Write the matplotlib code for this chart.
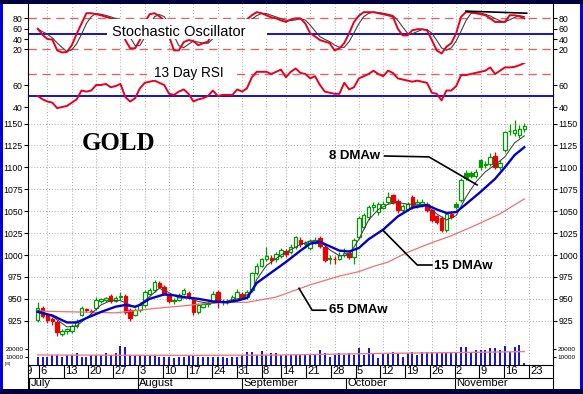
import matplotlib.pyplot as plt
import matplotlib.patches as patches
import numpy as np
import pandas as pd

plt.rcParams['font.family'] = ['Liberation Sans', 'DejaVu Sans']

# trading days 1 Jul 2009 .. 20 Nov 2009 (index 0..100)
opens = [926, 940, 931, 927, 924, 910, 913, 913, 919, 932,
         938, 936, 939, 948, 949, 953, 948, 952, 953, 937,
         932, 937, 943, 956, 960, 968, 964, 954, 947, 949,
         956, 957, 949, 935, 941, 944, 947, 958, 946, 947,
         949, 949, 956, 952, 960, 979, 988, 995, 997, 995,
         999, 1005, 1003, 1009, 1017, 1012, 1008, 1014, 1019, 1009,
         997, 996, 996, 1000, 1002, 998, 1020, 1032, 1043, 1055,
         1049, 1054, 1060, 1068, 1062, 1051, 1053, 1066, 1057, 1058,
         1058, 1051, 1044, 1042, 1028, 1047, 1058, 1063, 1094, 1094,
         1090, 1108, 1103, 1104, 1113, 1100, 1120, 1141, 1139, 1137,
         1144]
highs = [946, 942, 934, 929, 926, 915, 917, 921, 927, 942,
         940, 938, 952, 951, 952, 956, 953, 958, 955, 939,
         940, 946, 960, 962, 972, 970, 966, 956, 951, 957,
         962, 959, 950, 945, 946, 948, 959, 960, 950, 950,
         954, 961, 958, 960, 981, 991, 997, 1009, 1000, 1003,
         1008, 1007, 1012, 1022, 1020, 1016, 1018, 1021, 1022, 1011,
         1000, 999, 1003, 1008, 1004, 1019, 1045, 1048, 1057, 1060,
         1060, 1062, 1072, 1070, 1064, 1058, 1061, 1068, 1064, 1064,
         1060, 1053, 1046, 1044, 1049, 1050, 1060, 1088, 1097, 1096,
         1098, 1110, 1107, 1116, 1118, 1108, 1142, 1150, 1154, 1148,
         1151]
lows = [924, 928, 922, 920, 908, 907, 910, 911, 917, 930,
        935, 933, 937, 945, 946, 945, 946, 949, 933, 925,
        930, 935, 941, 953, 958, 962, 954, 945, 944, 947,
        954, 950, 932, 933, 939, 941, 945, 940, 943, 944,
        946, 947, 950, 950, 958, 977, 986, 993, 990, 992,
        997, 998, 1001, 1007, 1009, 1008, 1006, 1012, 1008, 992,
        990, 990, 994, 998, 996, 990, 1018, 1030, 1040, 1050,
        1046, 1052, 1058, 1058, 1048, 1048, 1051, 1052, 1054, 1055,
        1049, 1038, 1035, 1026, 1026, 1041, 1052, 1060, 1086, 1088,
        1088, 1097, 1099, 1102, 1098, 1097, 1118, 1137, 1136, 1133,
        1140]
closes = [940, 930, 926, 925, 912, 913, 915, 919, 925, 939,
          937, 935, 949, 950, 951, 947, 951, 953, 935, 928,
          937, 943, 958, 960, 969, 964, 956, 947, 949, 954,
          960, 952, 935, 943, 944, 945, 956, 947, 947, 948,
          952, 958, 952, 958, 979, 988, 995, 999, 994, 1001,
          1006, 1001, 1009, 1020, 1012, 1014, 1016, 1017, 1010, 994,
          996, 995, 1000, 1002, 998, 1017, 1042, 1046, 1055, 1057,
          1058, 1058, 1066, 1061, 1051, 1056, 1058, 1055, 1060, 1061,
          1051, 1040, 1038, 1028, 1047, 1043, 1055, 1086, 1088, 1090,
          1095, 1100, 1104, 1112, 1101, 1105, 1140, 1142, 1143, 1144,
          1147]
volume = [10300, 10300, 10300, 12500, 12500, 10300, 12500, 12500, 15500, 10300,
          9400, 12500, 12500, 12500, 14700, 12500, 14700, 24300, 22600, 12500,
          12500, 12500, 11200, 11200, 11200, 10300, 9400, 10300, 8100, 9400,
          10300, 12500, 11200, 10300, 10300, 9400, 10300, 9400, 9400, 8100,
          9400, 10300, 12500, 16900, 16900, 12500, 17800, 12500, 14700, 14700,
          12500, 12500, 12500, 12500, 12500, 12500, 12500, 12500, 19000, 14700,
          10300, 12500, 14700, 12500, 14700, 12500, 21300, 12500, 21300, 14700,
          8100, 14700, 14700, 16900, 14700, 10300, 14700, 16900, 12500, 16900,
          16900, 16900, 14700, 14700, 14700, 15500, 14700, 23400, 23400, 14700,
          19000, 19000, 19000, 21300, 21300, 19000, 24300, 16900, 23400, 25600,
          1500]
rsi13 = [50, 47, 45, 44, 39, 40, 41, 44, 47, 55,
         54, 55, 60, 60, 61, 58, 59, 61, 49, 45,
         48, 57, 62, 63, 64, 62, 60, 52, 51, 54,
         56, 52, 45, 47, 48, 50, 55, 50, 51, 51,
         51, 56, 54, 57, 67, 72, 72, 72, 70, 72,
         74, 67, 72, 75, 71, 70, 66, 68, 60, 54,
         53, 52, 52, 62, 56, 58, 66, 68, 70, 73,
         70, 68, 73, 71, 66, 65, 64, 63, 64, 63,
         62, 53, 52, 46, 55, 55, 59, 69, 69, 70,
         71, 72, 73, 76, 70, 73, 76, 76, 76.5, 78,
         80]
stoch_k = [60, 48, 40, 39, 18, 14, 15, 28, 50, 70,
           90, 90, 88, 86, 83, 80, 76, 70, 38, 22,
           22, 38, 72, 88, 90, 84, 76, 45, 18, 18,
           34, 38, 36, 28, 32, 35, 55, 45, 50, 55,
           65, 75, 70, 78, 86, 92, 90, 86, 82, 80,
           76, 73, 78, 80, 80, 70, 51, 45, 38, 35,
           32, 18, 22, 32, 51, 73, 85, 92, 92, 92,
           90, 88, 86, 83, 60, 47, 47, 57, 59, 59,
           57, 38, 18, 12, 25, 32, 51, 83, 92, 92,
           90, 88, 86, 80, 73, 73, 73, 86, 86, 84,
           80]

ma8_idx = [0, 3, 6, 8, 10, 13, 15, 17, 19, 20, 22, 25, 27, 29, 31, 33, 35, 38, 40, 42,
           44, 45, 47, 50, 52, 54, 56, 58, 60, 62, 64, 66, 68, 70, 72, 74, 76, 78, 80, 82,
           84, 86, 88, 90, 92, 94, 96, 98, 100]
ma8_val = [937, 930, 918, 919, 928, 943, 948, 948, 943, 940, 948, 962, 957, 951, 951, 947, 945, 946, 949, 951,
           958, 972, 988, 1000, 1006, 1012, 1016, 1016, 1006, 999, 1000, 1018, 1040, 1052, 1058, 1060, 1058, 1058, 1056, 1047,
           1040, 1045, 1066, 1083, 1095, 1103, 1112, 1128, 1136]
ma15_idx = [0, 3, 6, 8, 10, 13, 16, 18, 20, 21, 23, 26, 28, 30, 33, 36, 39, 41, 43, 45,
            48, 51, 54, 56, 58, 60, 62, 64, 66, 68, 71, 74, 77, 80, 82, 84, 86, 88, 91, 94,
            96, 98, 100]
ma15_val = [935, 931, 923, 923, 928, 935, 941, 943, 941, 943, 950, 955, 954, 952, 950, 947, 946, 948, 951, 968,
            980, 992, 1005, 1013, 1015, 1010, 1005, 1004, 1008, 1018, 1029, 1044, 1054, 1057, 1052, 1048, 1049, 1058, 1072, 1087,
            1100, 1114, 1123]
ma65_idx = [0, 8, 16, 24, 30, 35, 40, 43, 46, 49, 53, 56, 59, 62, 66, 69, 72, 76, 80, 85, 90, 95, 100]
ma65_val = [936, 935, 934, 939, 942, 945, 946, 946, 949, 952, 960, 966, 971, 976, 981, 987, 992, 1003, 1012, 1022,
            1034, 1047, 1064]
volma_idx = [0, 30, 50, 70, 90, 100]
volma_val = [12500, 12000, 12500, 14500, 16000, 17000]
stoch_trend_x = [88, 100.5]
stoch_trend_y = [94, 90]

week_idx = [-2, 2, 7, 12, 17, 22, 27, 32, 37, 42, 47, 51, 56, 61, 66, 71, 76, 81, 86, 91, 96, 101]
week_lbl = ['29', '6', '13', '20', '27', '3', '10', '17', '24', '31', '8', '14', '21', '28',
            '5', '12', '19', '26', '2', '9', '16', '23']
month_idx = [0, 22, 43, 64, 86]
month_lbl = ['July', 'August', 'September', 'October', 'November']

RED = '#e8001c'
BLUE = '#0000cc'
DASH = '#e06666'

W, H = 583, 394
XL, XR = 28, 553
fig = plt.figure(figsize=(W / 100, H / 100), dpi=100)
fig.patch.set_facecolor('white')
x = np.arange(len(closes))


def panel(top, bottom, size=6.3):
    ax = fig.add_axes([XL / W, 1 - bottom / H, (XR - XL) / W, (bottom - top) / H])
    ax.set_xlim(-0.2, 105.9)
    ax.spines['top'].set_visible(False)
    ax.spines['bottom'].set_visible(False)
    ax.tick_params(axis='x', length=0, labelbottom=False)
    ax.tick_params(axis='y', direction='out', length=3.2, width=0.8, labelsize=size,
                   left=True, right=True, labelleft=True, labelright=True, pad=0.8)
    ax.set_xticks(week_idx)
    ax.grid(axis='x', ls=(0, (1, 2)), color='#a8a8a8', lw=0.7)
    ax.set_axisbelow(True)
    return ax


# stochastic
ax_s = panel(4, 63)
ax_s.set_ylim(-6.4, 107.8)
ax_s.set_yticks([20, 40, 60, 80])
ax_s.axhline(80, color=DASH, lw=1, dashes=(6, 4))
ax_s.axhline(20, color=DASH, lw=1, dashes=(6, 4))
ax_s.axhline(50, color=BLUE, lw=1.3)
k = pd.Series(stoch_k)
ax_s.plot(x, k.rolling(3, min_periods=1).mean(), color='#404040', lw=0.8)
ax_s.plot(x, k, color=RED, lw=1.4)
ax_s.plot(stoch_trend_x, stoch_trend_y, color='black', lw=1.2)
ax_s.add_patch(patches.Rectangle((14.3, 40), 32.8, 38.8, facecolor='white',
                                 edgecolor='none', zorder=4))
ax_s.text(15.2, 53.6, 'Stochastic Oscillator', fontsize=10.5, va='center', zorder=5)

# RSI
ax_r = panel(63, 110)
ax_r.set_ylim(37.3, 80)
ax_r.set_yticks([40, 60])
ax_r.axhline(70, color=DASH, lw=1, dashes=(6, 4))
ax_r.axhline(50, color=BLUE, lw=1.3)
ax_r.plot(x, rsi13, color=RED, lw=1.4)
ax_r.add_patch(patches.Rectangle((22.4, 65), 18.6, 16, facecolor='white',
                                 edgecolor='none', zorder=4))
ax_r.text(23.8, 70.9, '13 Day RSI', fontsize=9.8, va='center', zorder=5)

# price
ax_p = panel(110, 340)
ax_p.set_ylim(903, 1165.5)
ax_p.set_yticks(range(925, 1151, 25))
ax_p.grid(axis='y', ls=(0, (1, 2)), color='#a8a8a8', lw=0.7)
for i in x:
    o, h, l, c = opens[i], highs[i], lows[i], closes[i]
    prev = closes[i - 1] if i > 0 else o
    col = '#009a00' if c >= prev else '#ee0000'
    fill = 'white' if c > o else col
    ax_p.vlines(i, l, h, color=col, lw=0.9, zorder=2)
    ax_p.bar(i, max(abs(c - o), 0.5), bottom=min(o, c), width=0.72,
             color=fill, edgecolor=col, lw=0.9, zorder=2.5)
ax_p.plot(ma65_idx, ma65_val, color='#f07070', lw=0.9, zorder=3)
ax_p.plot(ma8_idx, ma8_val, color='#404040', lw=0.75, zorder=3)
ax_p.plot(ma15_idx, ma15_val, color=BLUE, lw=1.7, zorder=3)

ax_p.text(9.1, 1127.7, 'GOLD', family=['Liberation Serif', 'DejaVu Serif'],
          weight='bold', fontsize=18, va='center')
ann = dict(color='black', lw=1.2, zorder=4)
ax_p.plot([71.3, 80.4, 90.3], [1113, 1112, 1080], **ann)
ax_p.text(70.4, 1113, '8 DMAw', fontsize=9.5, weight='bold', ha='right', va='center')
ax_p.plot([70.9, 78, 81], [1028.5, 988.6, 988.6], **ann)
ax_p.text(81.4, 988, '15 DMAw', fontsize=9.5, weight='bold', ha='left', va='center')
ax_p.plot([53.7, 56.4, 59.2], [962, 937, 937], **ann)
ax_p.text(59.8, 937, '65 DMAw', fontsize=9.5, weight='bold', ha='left', va='center')

# volume
ax_v = panel(340, 364.5, size=4.6)
ax_v.set_ylim(0, 32237)
ax_v.set_yticks([10000, 20000])
ax_v.tick_params(axis='y', length=2.5)
ax_v.vlines(x, 0, volume, color=BLUE, lw=1.3)
ax_v.plot(volma_idx, volma_val, color='#f08080', lw=1)
fig.text(5 / W, 1 - 363.5 / H, '[M]', fontsize=3.2, va='center')

# date axis
ax_d = fig.add_axes([XL / W, 1 - 389 / H, (XR - XL) / W, (389 - 364.5) / H])
ax_d.set_xlim(-0.2, 105.9)
ax_d.set_ylim(389, 364.5)
ax_d.set_xticks([])
ax_d.set_yticks([])
ax_d.spines['bottom'].set_visible(False)
ax_d.axhline(378, color='black', lw=0.8)
for i, lbl in zip(week_idx, week_lbl):
    ax_d.vlines(i, 364.5, 378, color='black', lw=0.8)
    ax_d.text(i + 0.25, 371.5, lbl, fontsize=8, ha='left', va='center', clip_on=True)
for i, lbl in zip(month_idx, month_lbl):
    ax_d.vlines(i, 378, 389, color='black', lw=0.8)
    ax_d.text(i + 0.3, 383.5, lbl, fontsize=8, ha='left', va='center', clip_on=True)

# frame
fig.add_artist(patches.Rectangle((0, 0), 1, 1, transform=fig.transFigure, fill=False,
                                 edgecolor='#0000e8', lw=4.3))
fig.add_artist(patches.Rectangle((0, 1 - 4 / H), 1, 4 / H, transform=fig.transFigure,
                                 facecolor='#000040', edgecolor='none'))
fig.add_artist(patches.Rectangle((0, 0), 1, 5 / H, transform=fig.transFigure,
                                 facecolor='#000040', edgecolor='none'))

fig.savefig('out.png', dpi=100)
